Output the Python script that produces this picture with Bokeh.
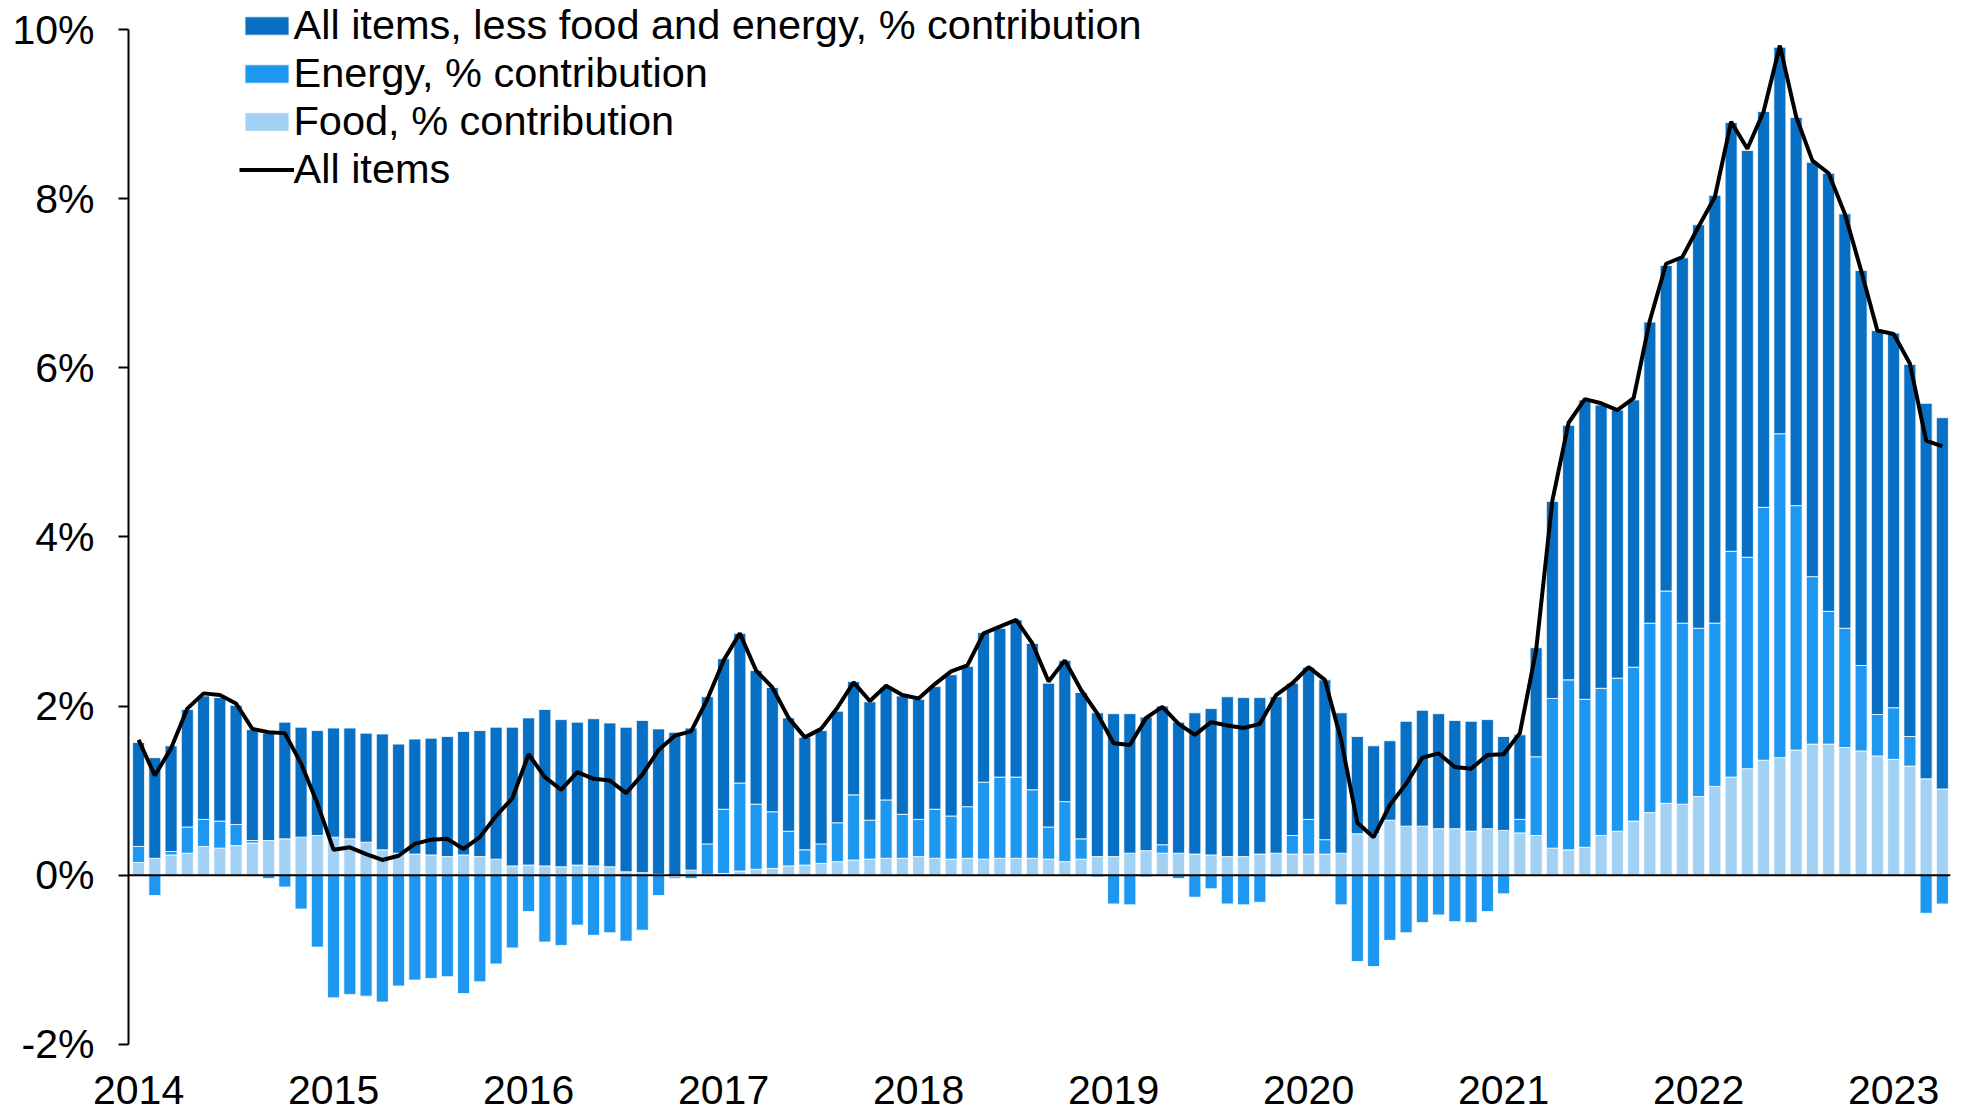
import numpy as np
from bokeh.plotting import figure
from bokeh.models import (Range1d, FixedTicker, Span, Legend, LegendItem)
from bokeh.embed import file_html
from bokeh.resources import INLINE

# ---------------- data (monthly, Jan 2014 - Apr 2023), % contributions ----------------
years = ["2014", "2015", "2016", "2017", "2018", "2019", "2020", "2021", "2022", "2023"]
year_start_month = [0, 12, 24, 36, 48, 60, 72, 84, 96, 108]

food = [
    0.15, 0.20, 0.24, 0.26, 0.34, 0.32, 0.35, 0.38, 0.41, 0.43, 0.45, 0.47,   # 2014
    0.45, 0.43, 0.39, 0.30, 0.26, 0.25, 0.24, 0.22, 0.24, 0.22, 0.19, 0.11,   # 2015
    0.12, 0.11, 0.10, 0.12, 0.11, 0.10, 0.04, 0.03, 0.01, -0.02, 0.06, 0.01,  # 2016
    0.02, 0.05, 0.07, 0.08, 0.11, 0.12, 0.14, 0.16, 0.18, 0.19, 0.20, 0.20,   # 2017
    0.22, 0.20, 0.19, 0.20, 0.19, 0.20, 0.20, 0.20, 0.19, 0.16, 0.19, 0.22,   # 2018
    0.22, 0.26, 0.29, 0.26, 0.26, 0.25, 0.24, 0.22, 0.22, 0.25, 0.26, 0.25,   # 2019
    0.25, 0.25, 0.26, 0.49, 0.49, 0.65, 0.58, 0.58, 0.55, 0.55, 0.52, 0.55,   # 2020
    0.53, 0.50, 0.47, 0.32, 0.30, 0.33, 0.47, 0.52, 0.64, 0.74, 0.85, 0.84,   # 2021
    0.93, 1.05, 1.16, 1.26, 1.36, 1.39, 1.48, 1.55, 1.55, 1.51, 1.47, 1.41,   # 2022
    1.37, 1.29, 1.14, 1.02,                                                   # 2023
]

energy = [
    0.19, -0.24, 0.04, 0.31, 0.32, 0.32, 0.25, 0.03, -0.04, -0.14, -0.40, -0.85,
    -1.45, -1.41, -1.43, -1.50, -1.31, -1.24, -1.22, -1.20, -1.40, -1.26, -1.05, -0.86,
    -0.43, -0.79, -0.83, -0.59, -0.71, -0.68, -0.78, -0.65, -0.24, -0.02, -0.04, 0.36,
    0.76, 1.04, 0.77, 0.67, 0.41, 0.18, 0.23, 0.46, 0.77, 0.46, 0.69, 0.52,
    0.44, 0.58, 0.51, 0.61, 0.91, 0.96, 0.96, 0.81, 0.38, 0.71, 0.24, -0.02,
    -0.34, -0.35, -0.02, 0.10, -0.04, -0.26, -0.16, -0.34, -0.35, -0.32, -0.02, 0.22,
    0.41, 0.17, -0.35, -1.02, -1.08, -0.77, -0.68, -0.56, -0.47, -0.55, -0.56, -0.43,
    -0.22, 0.16, 0.93, 1.77, 2.01, 1.75, 1.74, 1.81, 1.82, 2.24, 2.51, 2.14,
    1.99, 1.93, 2.67, 2.50, 2.99, 3.83, 2.89, 1.98, 1.57, 1.41, 1.01, 0.49,
    0.61, 0.35, -0.45, -0.34,
]

core = [
    1.23, 1.19, 1.25, 1.39, 1.46, 1.46, 1.41, 1.31, 1.27, 1.38, 1.30, 1.24,
    1.29, 1.31, 1.29, 1.37, 1.29, 1.36, 1.38, 1.42, 1.46, 1.49, 1.56, 1.64,
    1.74, 1.85, 1.74, 1.69, 1.74, 1.70, 1.71, 1.80, 1.72, 1.69, 1.68, 1.74,
    1.78, 1.77, 1.58, 1.47, 1.34, 1.33, 1.34, 1.32, 1.34, 1.40, 1.33, 1.40,
    1.42, 1.45, 1.67, 1.66, 1.77, 1.76, 1.86, 1.73, 1.70, 1.67, 1.73, 1.70,
    1.69, 1.65, 1.58, 1.64, 1.55, 1.67, 1.73, 1.89, 1.88, 1.85, 1.85, 1.80,
    1.80, 1.89, 1.66, 1.15, 1.04, 0.94, 1.24, 1.37, 1.36, 1.28, 1.30, 1.29,
    1.11, 1.00, 1.29, 2.33, 3.01, 3.54, 3.35, 3.17, 3.16, 3.56, 3.85, 4.32,
    4.77, 5.06, 5.07, 4.81, 4.68, 4.57, 4.59, 4.90, 5.18, 4.90, 4.67, 4.54,
    4.43, 4.40, 4.44, 4.39,
]

all_items = [
    1.60, 1.18, 1.50, 1.97, 2.15, 2.13, 2.03, 1.73, 1.69, 1.68, 1.32, 0.85,
    0.30, 0.33, 0.25, 0.18, 0.23, 0.37, 0.42, 0.43, 0.31, 0.45, 0.70, 0.91,
    1.43, 1.16, 1.01, 1.22, 1.14, 1.12, 0.97, 1.19, 1.48, 1.65, 1.70, 2.08,
    2.54, 2.86, 2.42, 2.22, 1.86, 1.63, 1.73, 1.98, 2.28, 2.06, 2.24, 2.13,
    2.09, 2.26, 2.41, 2.48, 2.86, 2.94, 3.02, 2.74, 2.29, 2.54, 2.19, 1.91,
    1.56, 1.54, 1.86, 1.99, 1.79, 1.66, 1.81, 1.77, 1.74, 1.79, 2.13, 2.27,
    2.46, 2.31, 1.60, 0.62, 0.45, 0.83, 1.08, 1.39, 1.44, 1.28, 1.26, 1.42,
    1.43, 1.68, 2.66, 4.43, 5.35, 5.63, 5.58, 5.50, 5.64, 6.56, 7.23, 7.31,
    7.67, 8.02, 8.91, 8.59, 9.03, 9.81, 8.97, 8.45, 8.30, 7.82, 7.15, 6.44,
    6.40, 6.05, 5.14, 5.07,
]

y_ticks = [-2, 0, 2, 4, 6, 8, 10]
y_tick_labels = ["-2%", "0%", "2%", "4%", "6%", "8%", "10%"]

series_names = ["All items, less food and energy, % contribution",
                "Energy, % contribution",
                "Food, % contribution"]
line_name = "All items"

# ---------------- styling ----------------
FONT = "Liberation Sans"
FS = "41px"
LFS = "41.5px"
C_CORE = "#0870C4"
C_ENERGY = "#1D97EF"
C_FOOD = "#A3D1F4"

n = len(food)
x = np.arange(n)

# stack positives upward, negatives downward (food at base, then energy, then core)
pos = np.zeros(n)
neg = np.zeros(n)
segs = {}
for key, vals in (("food", food), ("energy", energy), ("core", core)):
    v = np.asarray(vals, dtype=float)
    b = np.where(v >= 0, pos, neg)
    t = b + v
    pos = np.where(v >= 0, t, pos)
    neg = np.where(v < 0, t, neg)
    segs[key] = (b, t)

# frame spans the full height above the x labels; the y axis line is bounded to -2..10
p = figure(width=1967, height=1115,
           x_range=Range1d(-0.62, 111.5), y_range=Range1d(-2.262, 10.343),
           output_backend="svg", toolbar_location=None,
           min_border_left=128, min_border_right=17,
           min_border_top=0, min_border_bottom=49)
p.outline_line_color = None
p.background_fill_color = "white"
p.border_fill_color = "white"
p.xgrid.visible = False
p.ygrid.visible = False

W = 0.74
r_food = p.vbar(x=x, width=W, bottom=segs["food"][0], top=segs["food"][1],
                fill_color=C_FOOD, line_color="white", line_width=0.8)
r_energy = p.vbar(x=x, width=W, bottom=segs["energy"][0], top=segs["energy"][1],
                  fill_color=C_ENERGY, line_color="white", line_width=0.8)
r_core = p.vbar(x=x, width=W, bottom=segs["core"][0], top=segs["core"][1],
                fill_color=C_CORE, line_color="white", line_width=0.8)

p.add_layout(Span(location=0, dimension="width", line_color="black", line_width=2))

r_line = p.line(x=x, y=all_items, line_color="black", line_width=4)

# axes
yax = p.yaxis[0]
yax.ticker = FixedTicker(ticks=y_ticks)
yax.major_label_overrides = {t: l for t, l in zip(y_ticks, y_tick_labels)}
yax.bounds = (-2, 10)
yax.axis_line_color = "black"
yax.axis_line_width = 2
yax.major_tick_line_color = "black"
yax.major_tick_line_width = 2
yax.major_tick_out = 10
yax.major_tick_in = 0
yax.minor_tick_line_color = None
yax.major_label_standoff = 24
yax.major_label_text_font = FONT
yax.major_label_text_font_size = FS
yax.major_label_text_color = "black"

xax = p.xaxis[0]
xax.ticker = FixedTicker(ticks=year_start_month)
xax.major_label_overrides = {t: l for t, l in zip(year_start_month, years)}
xax.axis_line_color = None
xax.major_tick_line_color = None
xax.minor_tick_line_color = None
xax.major_tick_out = 0
xax.major_tick_in = 0
xax.major_label_standoff = 9
xax.major_label_text_font = FONT
xax.major_label_text_font_size = FS
xax.major_label_text_color = "black"

legend = Legend(items=[
    LegendItem(label=series_names[0], renderers=[r_core]),
    LegendItem(label=series_names[1], renderers=[r_energy]),
    LegendItem(label=series_names[2], renderers=[r_food]),
    LegendItem(label=line_name, renderers=[r_line]),
], location=(110.5, 873), orientation="vertical")
legend.padding = 0
legend.margin = 0
legend.spacing = 0
legend.label_height = 48
legend.glyph_height = 23
legend.glyph_width = 55
legend.label_standoff = 0
legend.label_text_font = FONT
legend.label_text_font_size = LFS
legend.label_text_color = "black"
legend.border_line_color = None
legend.background_fill_alpha = 0
p.add_layout(legend, "center")

open("out.html", "w").write(file_html(p, INLINE))
